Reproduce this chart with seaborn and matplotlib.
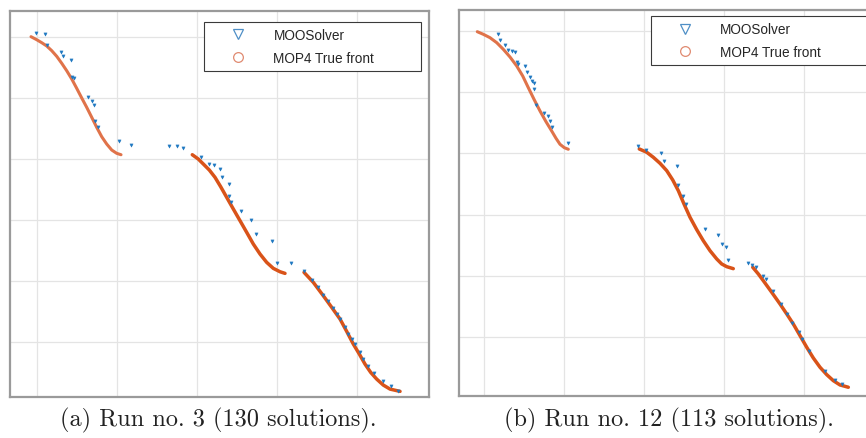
import matplotlib
matplotlib.use("Agg")
import matplotlib.pyplot as plt
import pandas as pd
import seaborn as sns
from matplotlib.lines import Line2D

# ---------------- data (grid units) ----------------
# Panel (a): true front segments
a_front1_x = [-0.075, -0.004, 0.059, 0.121, 0.184, 0.246, 0.309, 0.371, 0.434, 0.496, 0.559, 0.621, 0.684, 0.746, 0.809, 0.871, 0.934, 0.996, 1.050]
a_front1_y = [0.010, -0.089, -0.187, -0.295, -0.449, -0.633, -0.862, -1.105, -1.377, -1.682, -2.000, -2.305, -2.633, -2.961, -3.269, -3.508, -3.705, -3.813, -3.859]
a_front2_x = [1.941, 2.016, 2.079, 2.154, 2.225, 2.296, 2.371, 2.454, 2.538, 2.621, 2.704, 2.788, 2.871, 2.954, 3.038, 3.100]
a_front2_y = [-3.859, -4.000, -4.164, -4.361, -4.600, -4.908, -5.256, -5.639, -6.023, -6.403, -6.787, -7.115, -7.387, -7.584, -7.695, -7.748]
a_front3_x = [3.338, 3.454, 3.579, 3.684, 3.788, 3.871, 3.954, 4.029, 4.100, 4.171, 4.246, 4.329, 4.413, 4.538]
a_front3_y = [-7.715, -8.043, -8.482, -8.862, -9.246, -9.649, -10.066, -10.393, -10.721, -10.993, -11.213, -11.410, -11.541, -11.616]

# Panel (a): MOOSolver solutions
a_sol_x = [-0.013, 0.094, 0.121, 0.300, 0.329, 0.421, 0.434, 0.463, 0.641, 0.684, 0.716, 0.725, 0.766,
           1.025, 1.175, 1.654, 1.746, 1.819, 2.044, 2.154, 2.209, 2.288, 2.309, 2.396, 2.406, 2.421,
           2.544, 2.669, 2.738, 2.934, 2.996, 3.181, 3.338, 3.438, 3.516, 3.579, 3.641, 3.700, 3.746,
           3.788, 3.850, 3.891, 3.938, 3.975, 4.038, 4.079, 4.138, 4.213, 4.329, 4.425, 4.513]
a_sol_y = [0.121, 0.108, -0.272, -0.502, -0.613, -0.754, -1.311, -1.344, -1.967, -2.098, -2.230, -2.744, -2.961,
           -3.400, -3.531, -3.557, -3.574, -3.649, -3.944, -4.164, -4.197, -4.311, -4.600, -4.820, -5.203, -5.420,
           -5.689, -6.000, -6.466, -6.698, -7.420, -7.420, -7.672, -7.967, -8.207, -8.443, -8.646, -8.885, -9.082,
           -9.230, -9.492, -9.738, -9.902, -10.049, -10.338, -10.557, -10.787, -11.016, -11.269, -11.443, -11.590]

# Panel (b): true front segments
b_front1_x = [-0.084, -0.009, 0.075, 0.159, 0.241, 0.325, 0.409, 0.484, 0.554, 0.625, 0.700, 0.775, 0.846, 0.900, 0.950, 1.004, 1.054]
b_front1_y = [-0.023, -0.108, -0.219, -0.382, -0.598, -0.850, -1.144, -1.471, -1.853, -2.232, -2.614, -2.964, -3.268, -3.507, -3.703, -3.814, -3.866]
b_front2_x = [1.941, 2.034, 2.116, 2.200, 2.284, 2.359, 2.429, 2.500, 2.575, 2.659, 2.741, 2.825, 2.909, 2.971, 3.034, 3.116]
b_front2_y = [-3.856, -3.964, -4.127, -4.324, -4.565, -4.869, -5.219, -5.654, -6.088, -6.493, -6.853, -7.180, -7.451, -7.614, -7.703, -7.768]
b_front3_x = [3.359, 3.429, 3.491, 3.596, 3.700, 3.784, 3.866, 3.950, 4.034, 4.116, 4.200, 4.284, 4.366, 4.450, 4.554]
b_front3_y = [-7.722, -7.941, -8.160, -8.539, -8.922, -9.248, -9.575, -9.957, -10.337, -10.686, -10.990, -11.232, -11.428, -11.569, -11.644]

# Panel (b): MOOSolver solutions
b_sol_x = [0.181, 0.204, 0.260, 0.306, 0.346, 0.388, 0.413, 0.429, 0.513, 0.541, 0.575, 0.604, 0.629, 0.631,
           0.656, 0.750, 0.794, 0.829, 0.856, 1.048, 1.928, 2.031, 2.213, 2.256, 2.410, 2.423, 2.490, 2.528,
           2.765, 2.923, 2.975, 3.028, 3.046, 3.303, 3.344, 3.394, 3.490, 3.531, 3.615, 3.713, 3.791, 3.854,
           3.938, 3.979, 4.063, 4.260, 4.385, 4.475]
b_sol_y = [-0.088, -0.310, -0.451, -0.627, -0.654, -0.676, -1.013, -1.069, -1.154, -1.330, -1.493, -1.644, -1.690, -1.912,
           -2.408, -2.673, -2.778, -2.941, -3.154, -3.670, -3.765, -3.882, -3.993, -4.258, -4.402, -5.026, -5.408, -5.663,
           -6.471, -6.676, -6.951, -7.069, -7.474, -7.588, -7.637, -7.722, -7.997, -8.105, -8.487, -8.912, -9.248, -9.549,
           -9.846, -10.065, -10.448, -11.127, -11.399, -11.536]

x_grid = [0, 1, 2, 3, 4]
y_grid = [0, -2, -4, -6, -8, -10]
legend_labels = ["MOOSolver", "MOP4 True front"]
captions = ["(a) Run no. 3 (130 solutions).", "(b) Run no. 12 (113 solutions)."]

# ---------------- styling ----------------
sns.set_theme(style="white")
plt.rcParams["font.family"] = ["Liberation Sans", "DejaVu Sans"]

BLUE = "#1f78c1"
ORANGE = "#D95319"
ORANGE_LIGHT = "#e0734a"
FRAME = "#9a9a9a"
GRID = "#e4e4e4"

W, H = 866, 439
fig = plt.figure(figsize=(W / 100, H / 100), dpi=100)
axL = fig.add_axes([9.5 / W, 1 - 398 / H, 419.5 / W, 386 / H])
axR = fig.add_axes([459 / W, 1 - 397 / H, 420 / W, 386 / H])


def front_df(segs):
    rows = []
    for i, (xs, ys) in enumerate(segs):
        for x, y in zip(xs, ys):
            rows.append({"seg": i, "f1": x, "f2": y})
    return pd.DataFrame(rows)


panels = [
    (axL, [(a_front1_x, a_front1_y), (a_front2_x, a_front2_y), (a_front3_x, a_front3_y)],
     a_sol_x, a_sol_y, (-0.344, 4.9), (-11.80, 0.852), (0.4636, 0.9715)),
    (axR, [(b_front1_x, b_front1_y), (b_front2_x, b_front2_y), (b_front3_x, b_front3_y)],
     b_sol_x, b_sol_y, (-0.3125, 4.9375), (-11.93, 0.686), (0.457, 0.9837)),
]

for ax, segs, sx, sy, xl, yl, lpos in panels:
    first = front_df(segs[:1])
    rest = front_df(segs[1:])
    sns.lineplot(data=first, x="f1", y="f2", units="seg", estimator=None, sort=False,
                 color=ORANGE_LIGHT, lw=2.2, ax=ax, zorder=2)
    sns.lineplot(data=rest, x="f1", y="f2", units="seg", estimator=None, sort=False,
                 color=ORANGE, lw=2.5, ax=ax, zorder=2)
    sdf = pd.DataFrame({"f1": sx, "f2": sy})
    sns.scatterplot(data=sdf, x="f1", y="f2", marker="v", s=5, color=BLUE,
                    edgecolor=BLUE, linewidth=0.4, ax=ax, zorder=3)
    ax.set_xlim(*xl)
    ax.set_ylim(*yl)
    ax.set_xticks(x_grid)
    ax.set_yticks(y_grid)
    ax.set_xticklabels([])
    ax.set_yticklabels([])
    ax.tick_params(length=0)
    ax.set_xlabel("")
    ax.set_ylabel("")
    ax.grid(True, color=GRID, lw=0.9)
    ax.set_axisbelow(True)
    for sp in ax.spines.values():
        sp.set_color(FRAME)
        sp.set_linewidth(1.6)
    handles = [
        Line2D([], [], ls="none", marker="v", markersize=7, markerfacecolor="none",
               markeredgecolor="#4f8fc6", markeredgewidth=0.9),
        Line2D([], [], ls="none", marker="o", markersize=7, markerfacecolor="none",
               markeredgecolor="#e08a70", markeredgewidth=0.9),
    ]
    leg = ax.legend(handles, legend_labels, loc="upper left",
                    bbox_to_anchor=(lpos[0], 0, 0.5165, lpos[1]), mode="expand",
                    borderaxespad=0, borderpad=0.45, labelspacing=0.62,
                    handlelength=4.1, handletextpad=0.55, fontsize=9.8,
                    frameon=True, fancybox=False, framealpha=1)
    leg.get_frame().set_edgecolor("#3a3a3a")
    leg.get_frame().set_linewidth(0.8)

fig.text(218 / W, 1 - 420 / H, captions[0], ha="center", va="center",
         fontsize=17.5, family="cmr10", color="#222222")
fig.text(669 / W, 1 - 420 / H, captions[1], ha="center", va="center",
         fontsize=17.5, family="cmr10", color="#222222")

fig.savefig("out.png", dpi=100, facecolor="white")
